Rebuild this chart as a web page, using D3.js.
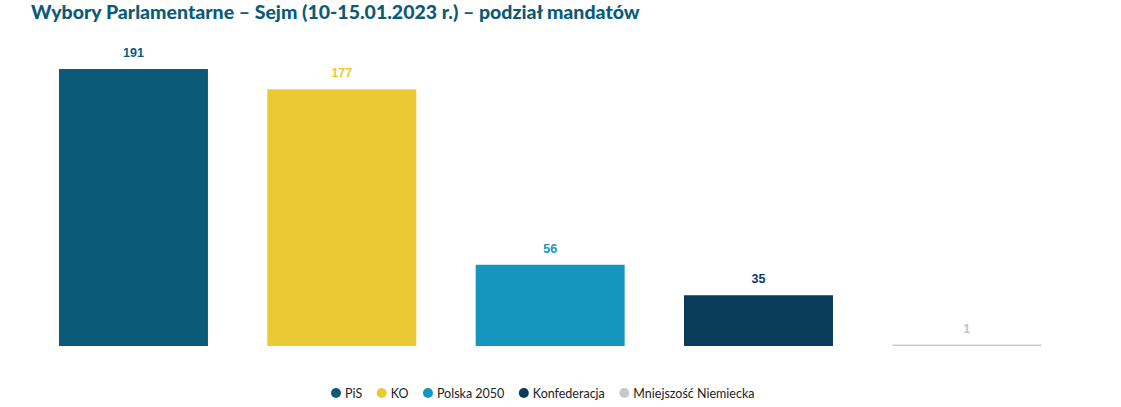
<!DOCTYPE html>
<html>
<head>
<meta charset="utf-8">
<script src="https://cdn.jsdelivr.net/npm/d3@7"></script>
<style>
  body { margin: 0; background: #fff; }
  svg { display: block; }
</style>
</head>
<body>
<svg width="1121" height="407"></svg>
<script>
const parties = ['PiS', 'KO', 'Polska 2050', 'Konfederacja', 'Mniejszość Niemiecka'];
const seats = [191, 177, 56, 35, 1];
const colors = ['#0b5b78', '#ebc934', '#1596be', '#0a3b59', '#c9c9c9'];
const labelColors = ['#0b5b78', '#ebc934', '#1596be', '#0a3b59', '#c3c3c3'];

const svg = d3.select('svg');

svg.append('text')
    .attr('x', 31)
    .attr('y', 19)
    .attr('font-family', 'Lato, sans-serif')
    .attr('font-weight', 900)
    .attr('font-size', 19.5)
    .attr('fill', '#0b5b78')
    .text('Wybory Parlamentarne – Sejm (10-15.01.2023 r.) – podział mandatów');

const xScale = d3.scaleBand().domain(parties).range([29.3, 1071]).paddingInner(0.285).paddingOuter(0.1425);
const yScale = d3.scaleLinear().domain([0, 191]).range([346, 69]);

svg.selectAll('.bar')
    .data(parties)
    .enter()
    .append('rect')
    .classed('bar', true)
    .attr('x', d => xScale(d))
    .attr('width', xScale.bandwidth())
    .attr('y', (d, i) => yScale(seats[i]))
    .attr('height', (d, i) => yScale(0) - yScale(seats[i]))
    .attr('fill', (d, i) => colors[i]);

svg.selectAll('.val')
    .data(parties)
    .enter()
    .append('text')
    .classed('val', true)
    .attr('x', d => xScale(d) + xScale.bandwidth() / 2)
    .attr('y', (d, i) => yScale(seats[i]) - 12)
    .attr('text-anchor', 'middle')
    .attr('font-family', 'Liberation Sans, Arial, sans-serif')
    .attr('font-weight', 'bold')
    .attr('font-size', 12.5)
    .attr('fill', (d, i) => labelColors[i])
    .text((d, i) => seats[i]);

// legend
const legend = svg.append('g').attr('transform', 'translate(0,393)');
let lx = 331;
parties.forEach((p, i) => {
    const g = legend.append('g').attr('transform', `translate(${lx},0)`);
    g.append('circle').attr('cx', 5).attr('cy', 0).attr('r', 5).attr('fill', colors[i]);
    const t = g.append('text')
        .attr('x', 14)
        .attr('y', 4.5)
        .attr('font-family', 'Lato, sans-serif')
        .attr('font-size', 12.5)
        .attr('fill', '#222')
        .text(p);
    lx += 14 + t.node().getComputedTextLength() + 14.5;
});
</script>
</body>
</html>
